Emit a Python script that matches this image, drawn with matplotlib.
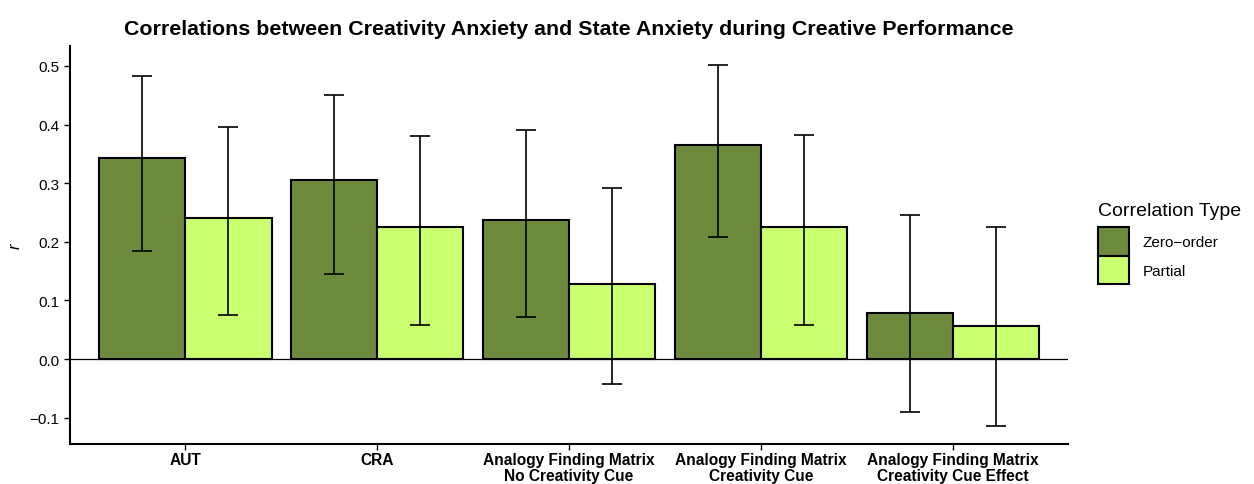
from matplotlib import pyplot as plt
from matplotlib.patches import Patch
from matplotlib.ticker import FuncFormatter
import numpy as np

plt.rcParams['font.family'] = ['Liberation Sans', 'DejaVu Sans']

tasks = ['AUT', 'CRA', 'Analogy Finding Matrix\nNo Creativity Cue',
         'Analogy Finding Matrix\nCreativity Cue',
         'Analogy Finding Matrix\nCreativity Cue Effect']
series = ['Zero\u2212order', 'Partial']

# correlation estimates with confidence interval bounds
zero_r = [0.343, 0.305, 0.237, 0.365, 0.079]
zero_lo = [0.184, 0.145, 0.072, 0.208, -0.090]
zero_hi = [0.483, 0.451, 0.391, 0.502, 0.246]
partial_r = [0.241, 0.226, 0.128, 0.225, 0.056]
partial_lo = [0.075, 0.058, -0.042, 0.058, -0.114]
partial_hi = [0.396, 0.381, 0.292, 0.382, 0.225]

colors = ['#6E8B3D', '#CAFF70']


def main():
	fig = plt.figure(figsize=(12.54, 4.85), dpi=100)
	ax = fig.add_axes([0.0558, 0.0825, 0.7959, 0.8205])
	x = np.arange(1, len(tasks) + 1)
	w = 0.45
	groups = [(zero_r, zero_lo, zero_hi), (partial_r, partial_lo, partial_hi)]
	for i, (r, lo, hi) in enumerate(groups):
		r = np.array(r)
		pos = x + (i - 0.5) * w
		ax.bar(pos, r, width=w, color=colors[i], edgecolor='black', linewidth=1.5, zorder=2)
		yerr = [r - np.array(lo), np.array(hi) - r]
		ax.errorbar(pos, r, yerr=yerr, fmt='none', ecolor='black', elinewidth=1.2,
		            capsize=7, capthick=1.2, zorder=3)
	ax.axhline(0, color='black', linewidth=0.9, zorder=1)
	ax.set_xlim(0.4, 5.6)
	ax.set_ylim(-0.145, 0.534)
	ax.set_yticks([-0.1, 0.0, 0.1, 0.2, 0.3, 0.4, 0.5])
	ax.yaxis.set_major_formatter(FuncFormatter(lambda v, p: ('%.1f' % v).replace('-', '\u2212')))
	ax.set_xticks(x)
	ax.set_xticklabels(tasks, fontweight='bold', fontsize=11.2, linespacing=1.02)
	ax.tick_params(axis='y', labelsize=11, length=4, width=1)
	ax.tick_params(axis='x', length=4, width=1, pad=2)
	for s in ['top', 'right']:
		ax.spines[s].set_visible(False)
	for s in ['left', 'bottom']:
		ax.spines[s].set_linewidth(1.5)
	ax.set_ylabel('r', fontstyle='italic', fontsize=12, labelpad=5)
	ax.set_title('Correlations between Creativity Anxiety and State Anxiety during Creative Performance',
	             fontweight='bold', fontsize=15.4, pad=9)
	# legend title placed separately to leave room above the keys
	fig.text(0.8756, 1 - 212 / 485, 'Correlation Type', fontsize=14, va='center', ha='left')
	handles = [Patch(facecolor=colors[i], edgecolor='black', linewidth=1.5, label=series[i])
	           for i in range(2)]
	fig.legend(handles=handles, loc='upper left',
	           bbox_to_anchor=(0.8756, 1 - 228 / 485), frameon=False, fontsize=11,
	           handlelength=2.0, handleheight=2.5,
	           handletextpad=0.9, labelspacing=0.0, borderpad=0, borderaxespad=0)
	fig.savefig('out.png', dpi=100)
	plt.close('all')


if __name__ == "__main__":
	main()
